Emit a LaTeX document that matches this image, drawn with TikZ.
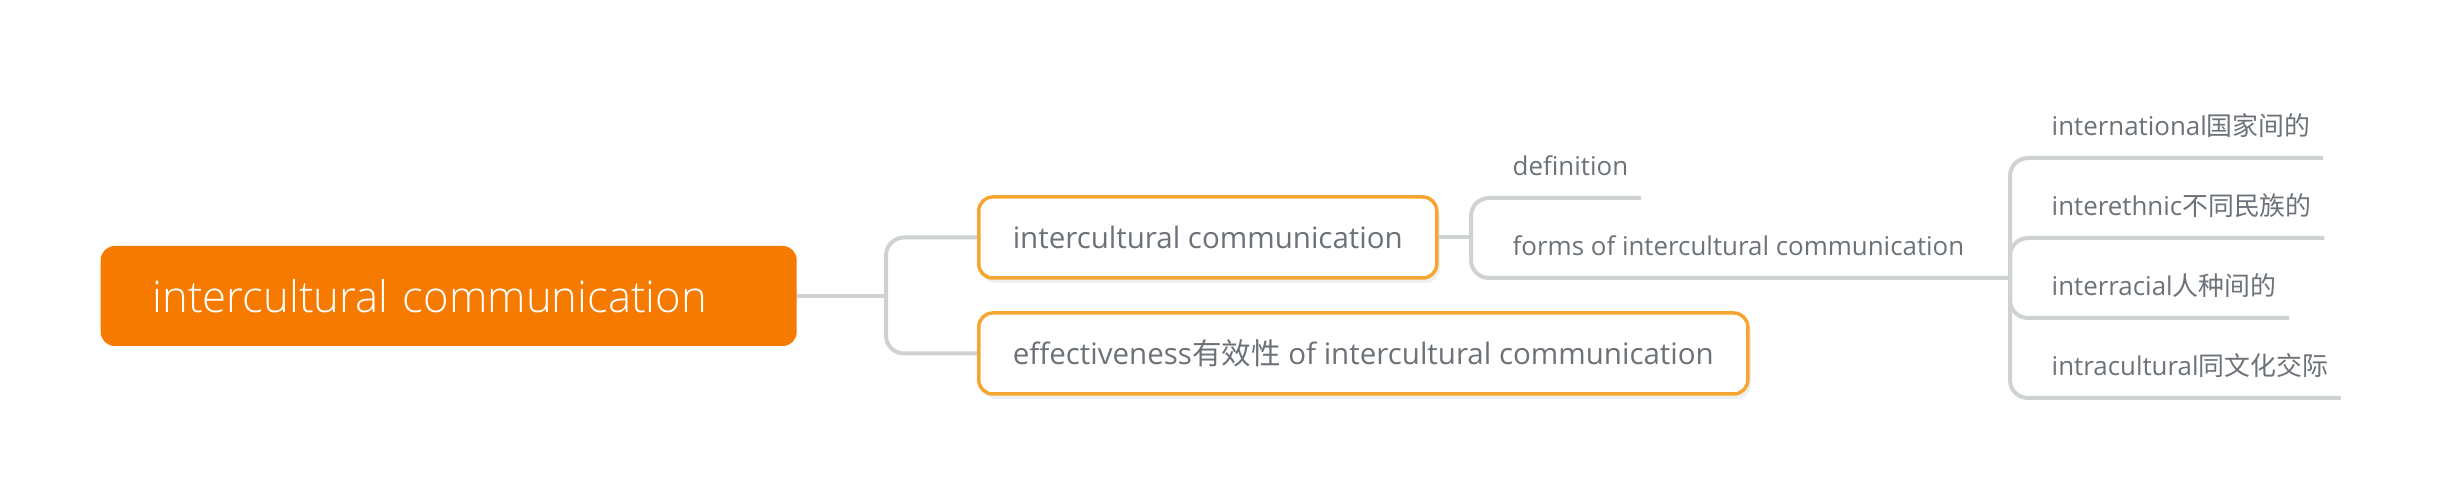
\documentclass[tikz,border=0pt]{standalone}
\usepackage{fontspec}
\setmainfont{Open Sans}
\IfFontExistsTF{Open Sans Light}{\newfontfamily\rootfont{Open Sans Light}}{\newfontfamily\rootfont{Open Sans}}
\newfontfamily\cjk{Noto Sans CJK SC}
\usetikzlibrary{shadows}
\definecolor{rootorange}{RGB}{246,122,0}
\definecolor{boxorange}{RGB}{245,166,50}
\definecolor{linegray}{RGB}{206,210,211}
\definecolor{textgray}{RGB}{108,114,120}
\begin{document}
\begin{tikzpicture}[
  x=0.1mm, y=-0.1mm,
  root/.style={fill=rootorange, text=white, rounded corners=1.4mm, minimum height=10mm,
    text width=59.2mm, inner xsep=5.2mm, align=left, anchor=west,
    font=\rootfont\fontsize{12.4pt}{14pt}\selectfont},
  topic/.style={draw=boxorange, line width=0.35mm, fill=white, text=textgray, rounded corners=1.4mm,
    minimum height=8.1mm, inner xsep=3.4mm, anchor=west,
    drop shadow={shadow xshift=0.3mm, shadow yshift=-0.5mm, opacity=0.12},
    font=\fontsize{8.4pt}{10pt}\selectfont},
  leaf/.style={text=textgray, anchor=south west, inner xsep=1.2mm, inner ysep=2.2mm, text depth=0pt,
    font=\fontsize{7.37pt}{9pt}\selectfont},
  branch/.style={draw=linegray, line width=0.4mm},
  elbow/.style={branch, rounded corners=1.8mm}
]
\fill[white] (0,0) rectangle (2447,500);
\useasboundingbox (0,0) rectangle (2447,500);

\node[root] (root) at (100,296) {intercultural communication};
\node[topic] (ic) at (977,237.5) {intercultural communication};
\node[topic] (eff) at (977,353.5) {effectiveness{\cjk 有效性} of intercultural communication};

\node[leaf] (def) at (1500,198) {definition};
\node[leaf] (forms) at (1500,278) {forms of intercultural communication};

\node[leaf] (intl) at (2039,158) {international{\cjk 国家间的}};
\node[leaf] (ethn) at (2039,238) {interethnic{\cjk 不同民族的}};
\node[leaf] (race) at (2039,318) {interracial{\cjk 人种间的}};
\node[leaf] (intra) at (2039,398) {intracultural{\cjk 同文化交际}};

\coordinate (j1) at (886,296);
\coordinate (j2) at (1471,237.5);
\coordinate (j3) at (2010,278);

\draw[branch] (root.east) -- (j1);
\draw[elbow] (j1) |- (ic.west);
\draw[elbow] (j1) |- (eff.west);

\draw[branch] (ic.east) -- (j2);
\draw[elbow] (j2) |- (def.south east);
\draw[elbow] (j2) |- (forms.south east) -- (j3);

\draw[elbow] (j3) |- (intl.south east);
\draw[elbow] (j3) |- (ethn.south east);
\draw[elbow] (j3) |- (race.south east);
\draw[elbow] (j3) |- (intra.south east);
\end{tikzpicture}
\end{document}
